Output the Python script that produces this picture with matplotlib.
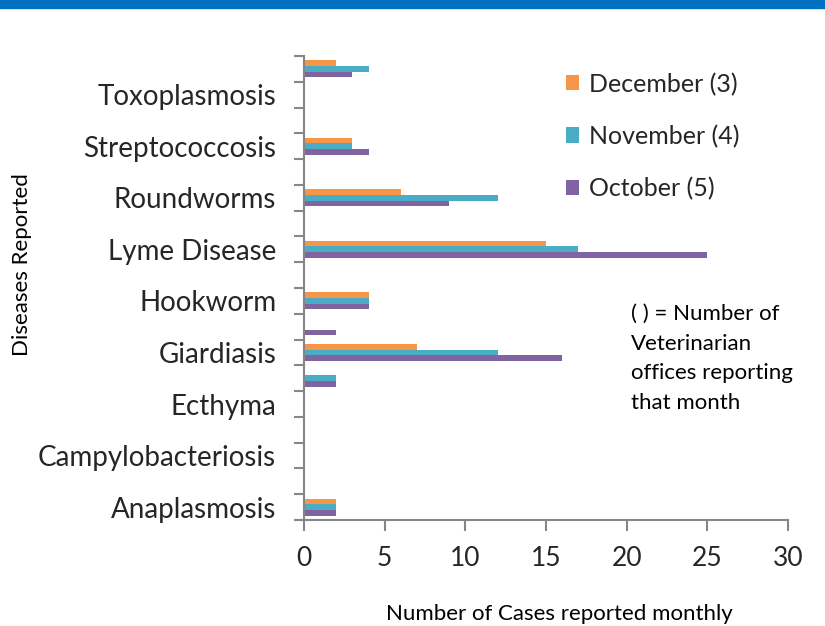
import numpy as np
import matplotlib
matplotlib.use("Agg")
import matplotlib.pyplot as plt
from matplotlib.patches import Rectangle

plt.rcParams['font.family'] = ['Lato', 'DejaVu Sans']

# 18 rows on the axis, a disease name on every other one
slots = ["Anaplasmosis", "", "Campylobacteriosis", "", "Ecthyma", "",
         "Giardiasis", "", "Hookworm", "", "Lyme Disease", "",
         "Roundworms", "", "Streptococcosis", "", "Toxoplasmosis", ""]
december = [2, 0, 0, 0, 0, 0, 7, 0, 4, 0, 15, 0, 6, 0, 3, 0, 0, 2]
november = [2, 0, 0, 0, 0, 2, 12, 0, 4, 0, 17, 0, 12, 0, 3, 0, 0, 4]
october = [2, 0, 0, 0, 0, 2, 16, 2, 4, 0, 25, 0, 9, 0, 4, 0, 0, 3]
series_names = ["December (3)", "November (4)", "October (5)"]
colors = ["#F79646", "#4BACC6", "#8064A2"]
xticks = [0, 5, 10, 15, 20, 25, 30]

W, H = 825, 626
fig = plt.figure(figsize=(W / 100, H / 100), dpi=100)
fig.patches.append(Rectangle((0, 1 - 8 / H), 1, 8 / H, transform=fig.transFigure,
                             color="#0070C0", zorder=0))

ax = fig.add_axes([304 / W, (H - 520) / H, (788 - 304) / W, (520 - 56) / H])

y = np.arange(len(slots))
h = 0.22
ax.barh(y + h, december, height=h, color=colors[0], label=series_names[0])
ax.barh(y, november, height=h, color=colors[1], label=series_names[1])
ax.barh(y - h, october, height=h, color=colors[2], label=series_names[2])

gray = "#868686"
txt = "#262626"
ax.set_xlim(0, 30)
ax.set_ylim(-0.5, len(slots) - 0.5)
ax.set_xticks(xticks)
ax.set_xticklabels([str(v) for v in xticks], fontsize=19, color=txt)
ax.tick_params(axis="x", length=8, width=1.5, color=gray, pad=11)

ax.set_yticks(np.arange(-0.5, len(slots), 1.0))
ax.set_yticklabels([])
ax.tick_params(axis="y", which="major", length=7, width=1.5, color=gray)
ax.set_yticks(y, minor=True)
ax.set_yticklabels(slots, minor=True, fontsize=20, color=txt)
ax.tick_params(axis="y", which="minor", length=0, pad=20)

for s in ["top", "right"]:
    ax.spines[s].set_visible(False)
for s in ["left", "bottom"]:
    ax.spines[s].set_color(gray)
    ax.spines[s].set_linewidth(1.5)

fig.text(22 / W, 1 - 265 / H, "Diseases Reported", rotation=90, fontsize=16,
         color="black", ha="center", va="center")
fig.text(559 / W, 1 - 614 / H, "Number of Cases reported monthly", fontsize=16,
         color="black", ha="center", va="center")
fig.text(631 / W, 1 - 304 / H,
         "( ) = Number of\nVeterinarian\noffices reporting\nthat month",
         fontsize=16, color="black", ha="left", va="top", linespacing=1.6)

ax.legend(loc="upper left", bbox_to_anchor=(543 / W, 1 - 50 / H),
          bbox_transform=fig.transFigure, frameon=False, fontsize=18,
          handlelength=0.55, handleheight=0.55, handletextpad=0.4,
          labelspacing=1.15, labelcolor=txt)

fig.savefig("out.png", dpi=100)
